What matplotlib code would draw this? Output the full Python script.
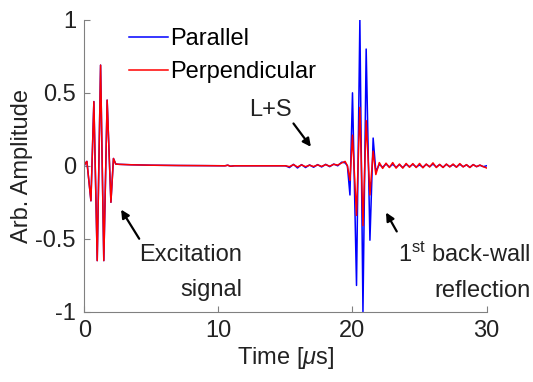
import matplotlib
matplotlib.use('Agg')
import matplotlib.pyplot as plt
import numpy as np

plt.rcParams['font.family'] = ['Liberation Sans', 'DejaVu Sans']
plt.rcParams['axes.unicode_minus'] = False
plt.rcParams['mathtext.fontset'] = 'custom'
plt.rcParams['mathtext.it'] = 'Liberation Sans:italic'
plt.rcParams['mathtext.rm'] = 'Liberation Sans'

# excitation burst (both channels), peaks
t_exc = [0, 0.1, 0.2, 0.5, 0.72, 0.97, 1.22, 1.46, 1.71, 1.99, 2.18, 2.35, 2.6,
         3.5, 5.0, 7.0, 9.0, 10.5, 10.7, 10.9, 11.2, 14.0]
a_exc = [0, 0.02, 0.03, -0.24, 0.44, -0.65, 0.69, -0.65, 0.45, -0.25, 0.05, 0.012, 0.01,
         0.007, 0.004, 0.002, 0.001, 0.0, 0.004, -0.003, 0.0, 0.0]

# small ripple before the back-wall echo
t_pre = [15.0, 15.3, 15.6, 15.9, 16.2, 16.5, 16.8, 17.1, 17.4, 17.7, 18.0, 18.3, 18.6,
         18.9, 19.2, 19.45]
a_par_pre = [0.0, -0.012, 0.01, -0.015, 0.008, -0.012, 0.006, -0.01, 0.008, -0.008, 0.01,
             -0.006, 0.012, 0.0, 0.025, 0.02]
a_perp_pre = [0.0, -0.006, 0.008, -0.008, 0.006, -0.006, 0.004, -0.005, 0.006, -0.004, 0.008,
              -0.003, 0.01, 0.005, 0.02, 0.03]

# back-wall reflection peaks
t_echo = [19.62, 19.81, 20.0, 20.3, 20.55, 20.78, 21.02, 21.3, 21.54, 21.74]
a_par_echo = [0.0, -0.20, 0.50, -0.82, 1.0, -1.0, 0.80, -0.51, 0.19, -0.04]
a_perp_echo = [0.0, -0.10, 0.21, -0.34, 0.40, -0.41, 0.31, -0.20, 0.10, -0.06]

# ripple after the echo
t_post = [22.0, 22.25, 22.5, 22.75, 23.0, 23.25, 23.5, 23.75, 24.0, 24.25, 24.5, 24.75,
          25.0, 25.25, 25.5, 25.75, 26.0, 26.25, 26.5, 26.75, 27.0, 27.25, 27.5, 27.75,
          28.0, 28.25, 28.5, 28.75, 29.0, 29.25, 29.5, 29.75, 30.0]
a_par_post = [0.01, -0.01, 0.012, -0.008, 0.01, -0.01, 0.008, -0.012, 0.01, -0.006, 0.01,
              -0.008, 0.006, -0.01, 0.01, -0.006, 0.012, -0.008, 0.008, -0.01, 0.01, -0.006,
              0.008, -0.008, 0.01, -0.006, 0.006, -0.01, 0.008, -0.006, 0.004, -0.006, 0.0]
a_perp_post = [0.022, -0.018, 0.018, -0.012, 0.022, -0.016, 0.012, -0.016, 0.016, -0.01, 0.015,
               -0.012, 0.016, -0.014, 0.012, -0.008, 0.02, -0.012, 0.01, -0.012, 0.012, -0.008,
               0.012, -0.01, 0.015, -0.008, 0.008, -0.012, 0.008, -0.006, 0.005, -0.006, -0.015]

t_all = t_exc + t_pre + t_echo + t_post
par = a_exc + a_par_pre + a_par_echo + a_par_post
perp = a_exc + a_perp_pre + a_perp_echo + a_perp_post

fs = 17
fig = plt.figure(figsize=(5.33, 3.82), dpi=100)
ax = fig.add_axes([0.158, 0.184, 0.755, 0.764])

ax.plot(t_all, par, color='#0000ff', lw=1.1, label='Parallel')
ax.plot(t_all, perp, color='#ff0000', lw=1.1, label='Perpendicular')

ax.set_xlim(0, 30)
ax.set_ylim(-1, 1)
ax.set_xticks([0, 10, 20, 30])
ax.set_yticks([-1, -0.5, 0, 0.5, 1])
ax.set_yticklabels(['-1', '-0.5', '0', '0.5', '1'])
for s in ['top', 'right']:
    ax.spines[s].set_visible(False)
for s in ['left', 'bottom']:
    ax.spines[s].set_color('#808080')
ax.tick_params(direction='in', length=4, color='#808080', labelsize=fs,
               labelcolor='#222222', pad=6)
ax.set_xlabel(r'Time [$\mu$s]', fontsize=fs, color='#222222', labelpad=2)
ax.set_ylabel('Arb. Amplitude', fontsize=fs, color='#222222', labelpad=1.5)

ax.legend(loc='upper left', bbox_to_anchor=(0.058, 1.045), frameon=False, fontsize=fs,
          handlelength=1.65, handletextpad=0.1, labelspacing=0.48)

arr = dict(arrowstyle='-|>', color='k', lw=1.6, mutation_scale=12, shrinkA=0, shrinkB=0)
ax.text(13.85, 0.38, 'L+S', fontsize=fs, ha='center', va='center', color='#222222')
ax.annotate('', xy=(16.9, 0.13), xytext=(15.6, 0.29), arrowprops=arr)
ax.text(11.76, -0.73, 'Excitation\nsignal', fontsize=fs, ha='right', va='center',
        multialignment='right', linespacing=1.75, color='#222222')
ax.annotate('', xy=(2.75, -0.30), xytext=(4.1, -0.5), arrowprops=arr)
ax.text(33.3, -0.73, '1$^{\\rm st}$ back-wall\nreflection', fontsize=fs, ha='right',
        va='center', multialignment='right', linespacing=1.75, color='#222222',
        clip_on=False)
ax.annotate('', xy=(22.5, -0.32), xytext=(23.3, -0.45), arrowprops=arr)

fig.savefig('out.png', dpi=100)
